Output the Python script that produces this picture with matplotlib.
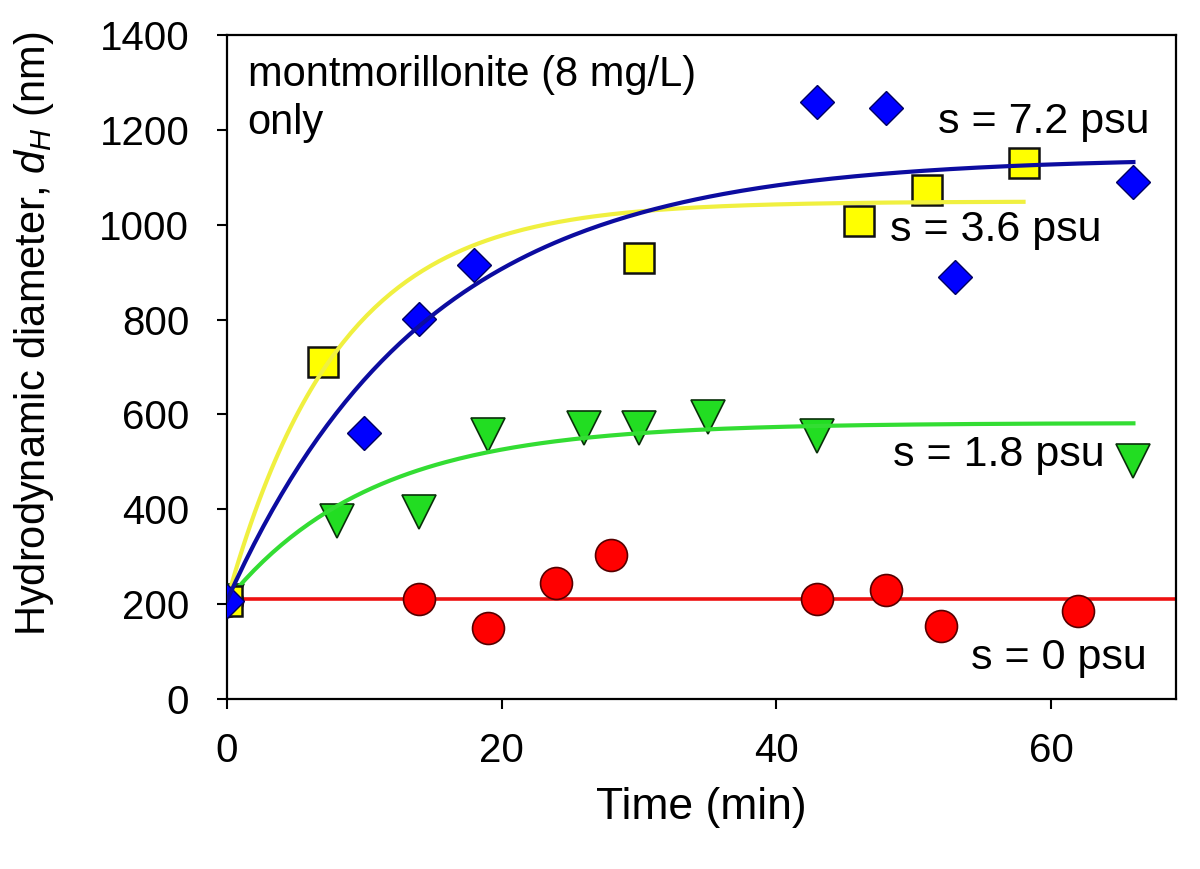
import numpy as np
import matplotlib
matplotlib.use("Agg")
import matplotlib.pyplot as plt

plt.rcParams["font.family"] = ["Liberation Sans", "DejaVu Sans"]
plt.rcParams["mathtext.fontset"] = "custom"
plt.rcParams["mathtext.rm"] = "Liberation Sans"
plt.rcParams["mathtext.it"] = "Liberation Sans:italic"

# measured hydrodynamic diameter (nm) vs time (min), one set per salinity
t_0 = [0, 14, 19, 24, 28, 43, 48, 52, 62]
d_0 = [207, 211, 150, 245, 303, 210, 230, 155, 186]
t_18 = [0, 8, 14, 19, 26, 30, 35, 43, 66]
d_18 = [207, 375, 394, 557, 571, 571, 595, 555, 502]
t_36 = [0, 7, 30, 46, 51, 58]
d_36 = [207, 711, 930, 1008, 1073, 1130]
t_72 = [0, 10, 14, 18, 43, 48, 53, 66]
d_72 = [207, 561, 801, 915, 1259, 1246, 890, 1090]

# exponential rise-to-max fits: d = y0 + a*(1 - exp(-b t)), drawn up to t_end
fit_y0 = 207
fit_a = {"1.8": 375, "3.6": 842, "7.2": 935}
fit_b = {"1.8": 0.095, "3.6": 0.123, "7.2": 0.069}
fit_end = {"1.8": 66, "3.6": 58, "7.2": 66}
mean_0 = 211   # s = 0 psu: flat line at mean size

labels = ["s = 7.2 psu", "s = 3.6 psu", "s = 1.8 psu", "s = 0 psu"]
label_x = [51.8, 48.3, 48.5, 54.2]
label_y = [1216, 988, 514, 87]


def fit(key):
    t = np.linspace(0, fit_end[key], 200)
    return t, fit_y0 + fit_a[key] * (1 - np.exp(-fit_b[key] * t))


fig = plt.figure(figsize=(12, 8.69), dpi=100)
ax = fig.add_axes([0.189, 0.1956, 0.791, 0.7641])

ax.axhline(mean_0, color="#ee1111", lw=2.6, zorder=2)
ax.plot(t_0, d_0, "o", ms=23, mfc="#ff0000", mec="#550000", mew=1.2, zorder=3)

ax.plot(t_18, d_18, "v", ms=24, mfc="#22dd22", mec="#0a300a", mew=1.2, zorder=3)
ax.plot(*fit("1.8"), color="#33dd33", lw=3, zorder=4)

ax.plot(t_36, d_36, "s", ms=21, mfc="#ffff00", mec="#111111", mew=1.8, zorder=4)
ax.plot(*fit("3.6"), color="#f0f040", lw=3, zorder=5)

ax.plot(t_72, d_72, "D", ms=17.5, mfc="#0000ff", mec="#000060", mew=1.0, zorder=5)
ax.plot(*fit("7.2"), color="#0c0ca0", lw=3, zorder=6)

for s, x, y in zip(labels, label_x, label_y):
    ax.text(x, y, s, fontsize=31, va="center", ha="left", zorder=7)
ax.text(0.022, 0.97, "montmorillonite (8 mg/L)\nonly", transform=ax.transAxes,
        fontsize=30, va="top", ha="left", linespacing=1.25)

ax.set_xlim(0, 69.1)
ax.set_ylim(0, 1400)
ax.set_xticks([0, 20, 40, 60])
ax.set_yticks(range(0, 1401, 200))
ax.tick_params(direction="out", length=7, width=1.5, labelsize=29)
ax.tick_params(axis="x", pad=17)
ax.tick_params(axis="y", pad=20)
for sp in ax.spines.values():
    sp.set_linewidth(1.6)

ax.set_xlabel("Time (min)", fontsize=32, labelpad=12)
ax.set_ylabel(r"Hydrodynamic diameter, $\it{d}_{\it{H}}$ (nm)", fontsize=30)
ax.yaxis.set_label_coords(-0.18, 0.55)

fig.savefig("out.png", dpi=100)
